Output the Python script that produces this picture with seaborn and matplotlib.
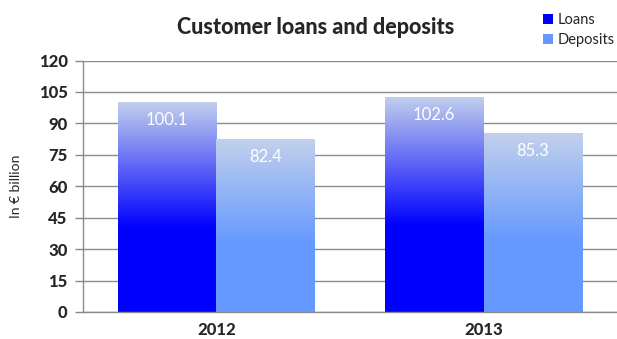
import numpy as np
import pandas as pd
import matplotlib
matplotlib.use("Agg")
import matplotlib.pyplot as plt
import seaborn as sns
from matplotlib.colors import LinearSegmentedColormap
from matplotlib.patches import Patch

years = ["2012", "2013"]
series = ["Loans", "Deposits"]
loans = [100.1, 102.6]
deposits = [82.4, 85.3]
yticks = [0, 15, 30, 45, 60, 75, 90, 105, 120]

df = pd.DataFrame({
    "year": years * 2,
    "series": ["Loans"] * len(years) + ["Deposits"] * len(years),
    "value": loans + deposits,
})

sns.set_theme(style="white")
plt.rcParams["font.family"] = ["Lato", "DejaVu Sans"]

top_col = "#c2d0ec"
bottom_cols = {"Loans": "#0000ff", "Deposits": "#6699ff"}

fig = plt.figure(figsize=(6.17, 3.39), dpi=100)
ax = fig.add_axes([83 / 617, 1 - 312 / 339, 534 / 617, (312 - 60.5) / 339])

sns.barplot(data=df, x="year", y="value", hue="series", order=years,
            hue_order=series, palette=bottom_cols, width=0.74, gap=0,
            legend=False, ax=ax, saturation=1)

ax.set_ylim(0, 120)
ax.set_xlim(-0.5, 1.5)

# gradient fill for each bar
for container, name in zip(ax.containers, series):
    cmap = LinearSegmentedColormap.from_list(
        name, [(0, bottom_cols[name]), (0.4, bottom_cols[name]), (1, top_col)])
    for patch, val in zip(container.patches, container.datavalues):
        x0 = patch.get_x()
        w = patch.get_width()
        h = patch.get_height()
        grad = np.linspace(0, 1, 256).reshape(-1, 1)
        im = ax.imshow(grad, cmap=cmap, origin="lower", aspect="auto",
                       extent=[x0, x0 + w, 0, h], zorder=2)
        im.set_clip_path(patch)
        patch.set_facecolor("none")
        patch.set_edgecolor("none")
        ax.text(x0 + w / 2, h - 8.4, f"{val:.1f}", ha="center", va="center",
                color="white", fontsize=12, zorder=3)

ax.set_xlim(-0.5, 1.5)
ax.set_ylim(0, 120)
ax.set_yticks(yticks)
ax.set_yticklabels([str(t) for t in yticks], fontweight="black", fontsize=12)
ax.set_xticks([0, 1])
ax.set_xticklabels(years, fontweight="black", fontsize=12)
ax.tick_params(axis="x", length=0, pad=7)
ax.set_xticks([-0.5, 0.5, 1.5], minor=True)
ax.tick_params(axis="x", which="minor", length=5, color="#888888", width=1)
ax.tick_params(axis="y", length=6, color="#888888", width=1, pad=5, left=True)
ax.grid(axis="y", color="#8c8c8c", linewidth=1)
ax.set_axisbelow(True)
for s in ["top", "right"]:
    ax.spines[s].set_visible(False)
for s in ["left", "bottom"]:
    ax.spines[s].set_color("#8c8c8c")
    ax.spines[s].set_linewidth(1)
ax.set_xlabel("")
ax.set_ylabel("In € billion", fontsize=10, labelpad=12)

fig.text(316 / 617, 1 - 28 / 339, "Customer loans and deposits", ha="center",
         va="center", fontsize=15.5, fontweight="black")

handles = [Patch(facecolor=bottom_cols[s], edgecolor="none") for s in series]
fig.legend(handles, series, loc="upper right", bbox_to_anchor=(1.018, 1.0),
           frameon=False, fontsize=10.5, handlelength=0.7, handleheight=0.7,
           handletextpad=0.3, labelspacing=0.4)

fig.savefig("out.png", dpi=100)
